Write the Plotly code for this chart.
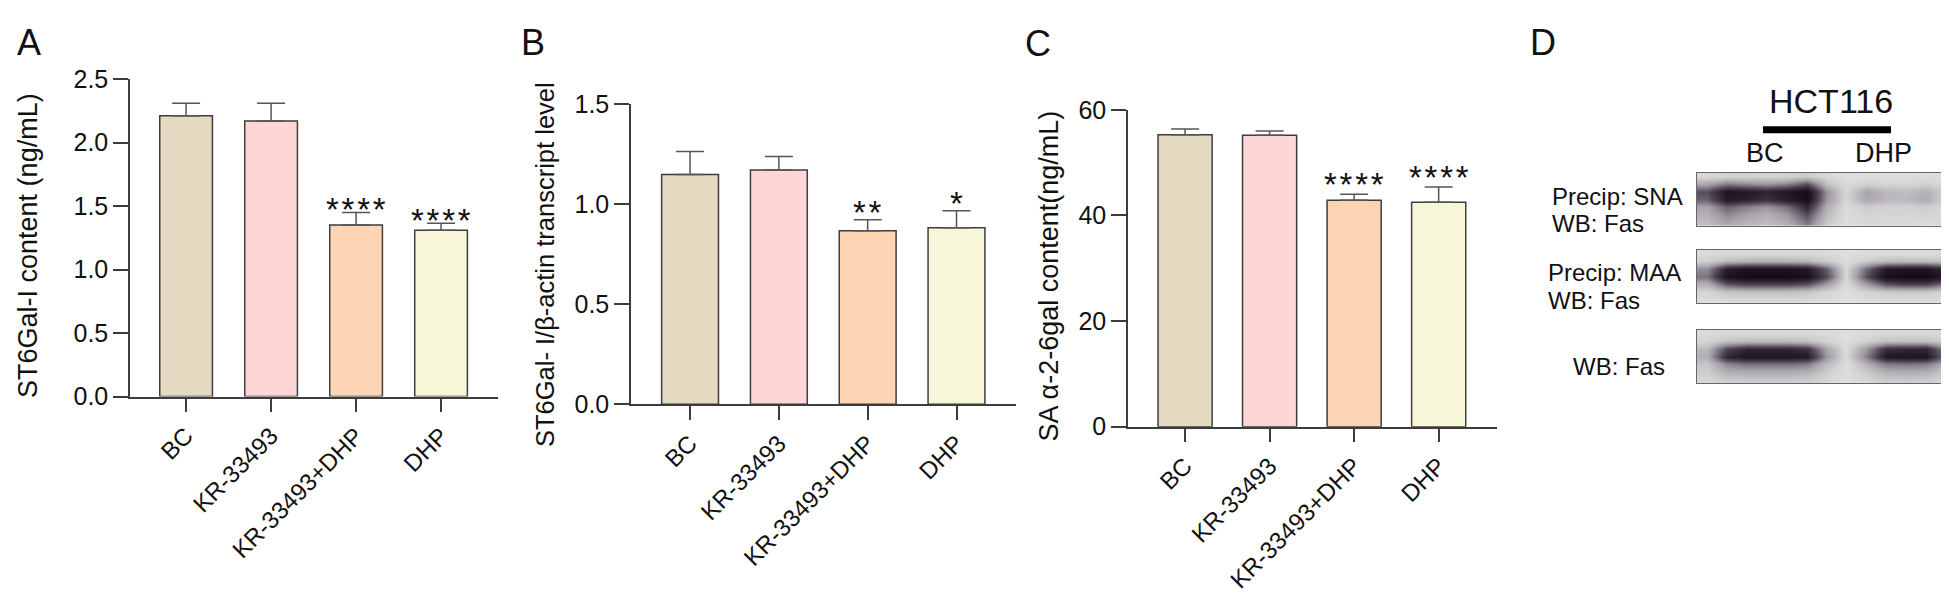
import plotly.graph_objects as go

W, H = 1949, 597
FONT = "Liberation Sans, Arial, sans-serif"

# ---------------- data ----------------
categories = ["BC", "KR-33493", "KR-33493+DHP", "DHP"]
bar_colors = ["#E3DAC1", "#FDD6D5", "#FDD4B4", "#F8F6D9"]

a_mean = [2.21, 2.17, 1.35, 1.31]
a_err = [0.10, 0.14, 0.10, 0.055]
a_stars = ["", "", "****", "****"]

b_mean = [1.148, 1.170, 0.867, 0.881]
b_err = [0.114, 0.067, 0.054, 0.086]
b_stars = ["", "", "**", "*"]

c_mean = [55.3, 55.2, 42.9, 42.5]
c_err = [1.1, 0.8, 1.1, 2.9]
c_stars = ["", "", "****", "****"]

a_ticks = [0.0, 0.5, 1.0, 1.5, 2.0, 2.5]
b_ticks = [0.0, 0.5, 1.0, 1.5]
c_ticks = [0, 20, 40, 60]

a_title = "ST6Gal-I content (ng/mL)"
b_title = "ST6Gal- I/β-actin transcript level"
c_title = "SA α-2-6gal content(ng/mL)"

# western blot band densities (rows top->bottom, columns left->right)
blot_sna = [
    [0.06, 0.10, 0.10, 0.09, 0.10, 0.14, 0.06, 0.02, 0.03, 0.03, 0.03, 0.04, 0.03],
    [0.30, 0.45, 0.40, 0.36, 0.42, 0.60, 0.18, 0.04, 0.10, 0.08, 0.08, 0.10, 0.05],
    [0.62, 0.92, 0.88, 0.82, 0.90, 1.00, 0.38, 0.07, 0.32, 0.22, 0.20, 0.26, 0.10],
    [0.55, 0.88, 0.82, 0.74, 0.86, 0.98, 0.36, 0.07, 0.30, 0.22, 0.22, 0.28, 0.10],
    [0.32, 0.55, 0.45, 0.38, 0.50, 0.80, 0.26, 0.05, 0.12, 0.10, 0.10, 0.12, 0.06],
    [0.26, 0.42, 0.32, 0.26, 0.36, 0.62, 0.20, 0.04, 0.09, 0.08, 0.08, 0.09, 0.05],
    [0.20, 0.32, 0.24, 0.20, 0.28, 0.48, 0.15, 0.03, 0.07, 0.06, 0.06, 0.06, 0.04],
]
blot_maa = [
    [0.05, 0.06, 0.06, 0.06, 0.06, 0.06, 0.05, 0.02, 0.04, 0.05, 0.05, 0.05, 0.05],
    [0.10, 0.20, 0.24, 0.24, 0.24, 0.22, 0.12, 0.03, 0.12, 0.20, 0.20, 0.20, 0.16],
    [0.40, 0.85, 0.92, 0.92, 0.92, 0.88, 0.55, 0.06, 0.52, 0.88, 0.92, 0.92, 0.78],
    [0.48, 0.95, 1.00, 1.00, 1.00, 0.97, 0.62, 0.07, 0.60, 0.97, 1.00, 1.00, 0.88],
    [0.26, 0.60, 0.68, 0.68, 0.68, 0.62, 0.34, 0.04, 0.34, 0.62, 0.68, 0.68, 0.50],
    [0.08, 0.16, 0.18, 0.18, 0.18, 0.16, 0.08, 0.02, 0.08, 0.14, 0.14, 0.14, 0.09],
    [0.04, 0.06, 0.06, 0.06, 0.06, 0.06, 0.04, 0.02, 0.04, 0.05, 0.05, 0.05, 0.04],
]
blot_fas = [
    [0.05, 0.06, 0.06, 0.06, 0.06, 0.06, 0.05, 0.02, 0.05, 0.06, 0.06, 0.06, 0.05],
    [0.08, 0.16, 0.20, 0.20, 0.20, 0.18, 0.08, 0.03, 0.10, 0.18, 0.18, 0.18, 0.10],
    [0.22, 0.66, 0.80, 0.80, 0.80, 0.74, 0.30, 0.04, 0.36, 0.76, 0.80, 0.80, 0.42],
    [0.26, 0.80, 0.92, 0.90, 0.92, 0.88, 0.36, 0.05, 0.44, 0.88, 0.92, 0.90, 0.50],
    [0.16, 0.42, 0.50, 0.50, 0.50, 0.46, 0.20, 0.03, 0.24, 0.46, 0.48, 0.46, 0.26],
    [0.12, 0.26, 0.28, 0.28, 0.28, 0.26, 0.12, 0.03, 0.14, 0.26, 0.28, 0.26, 0.14],
    [0.07, 0.14, 0.14, 0.14, 0.14, 0.14, 0.07, 0.02, 0.08, 0.14, 0.14, 0.14, 0.08],
]
blot_grids = [blot_sna, blot_maa, blot_fas]
blot_labels = [["Precip: SNA", "WB: Fas"], ["Precip: MAA", "WB: Fas"], ["WB: Fas"]]
lane_labels = ["BC", "DHP"]
cell_line = "HCT116"

# ---------------- layout helpers ----------------
def px_x(p):
    return p / W

def px_y(p):
    return 1 - p / H

AXIS_COLOR = "#3c3c3c"
BAR_LINE = "#3d3d3d"

fig = go.Figure()

panels = [
    dict(mean=a_mean, err=a_err, stars=a_stars, ticks=a_ticks, fmt=".1f",
         xd=(122, 490), yd=(393, 59.8), xr=[-0.66, 3.67], yr=[0, 2.5], bw=0.62, gap=3,
         title=a_title, tpos=(20, 235)),
    dict(mean=b_mean, err=b_err, stars=b_stars, ticks=b_ticks, fmt=".1f",
         xd=(623, 1008), yd=(401, 86), xr=[-0.665, 3.67], yr=[0, 1.5], bw=0.64, gap=8,
         title=b_title, tpos=(537, 255)),
    dict(mean=c_mean, err=c_err, stars=c_stars, ticks=c_ticks, fmt="d",
         xd=(1120, 1489), yd=(424.6, 92.2), xr=[-0.675, 3.69], yr=[0, 60], bw=0.64, gap=10,
         title=c_title, tpos=(1041, 267)),
]

STAR_SIZE = 33
annotations = []
for i, p in enumerate(panels, start=1):
    xa = "x" if i == 1 else f"x{i}"
    ya = "y" if i == 1 else f"y{i}"
    fig.add_trace(go.Bar(
        x=categories, y=p["mean"], xaxis=xa, yaxis=ya,
        width=p["bw"],
        marker=dict(color=bar_colors, line=dict(color=BAR_LINE, width=1.5)),
        error_y=dict(type="data", array=p["err"], arrayminus=[0] * 4, symmetric=False,
                     color="#555555", thickness=1.5, width=14),
        showlegend=False, hoverinfo="skip",
    ))
    xkey = "xaxis" if i == 1 else f"xaxis{i}"
    ykey = "yaxis" if i == 1 else f"yaxis{i}"
    fig.update_layout(**{
        xkey: dict(domain=[px_x(p["xd"][0]), px_x(p["xd"][1])], anchor=ya,
                   type="category", range=p["xr"], showgrid=False, zeroline=False,
                   showline=True, linecolor=AXIS_COLOR, linewidth=1.5,
                   ticks="outside", ticklen=14, tickwidth=1.5, tickcolor=AXIS_COLOR,
                   tickangle=-45, tickfont=dict(family=FONT, size=24, color="#111")),
        ykey: dict(domain=[px_y(p["yd"][0]), px_y(p["yd"][1])], anchor=xa,
                   range=p["yr"], tickvals=p["ticks"], tickformat=p["fmt"],
                   showgrid=False, zeroline=False,
                   showline=True, linecolor=AXIS_COLOR, linewidth=1.5,
                   ticks="outside", ticklen=15, tickwidth=1.5, tickcolor=AXIS_COLOR,
                   tickfont=dict(family=FONT, size=25, color="#111")),
    })
    for cat, m, e, s in zip(categories, p["mean"], p["err"], p["stars"]):
        if s:
            annotations.append(dict(
                x=cat, y=m + e, xref=xa, yref=ya, text="\u200a".join(s),
                showarrow=False, xanchor="center", yanchor="bottom",
                yshift=-int(0.64 * STAR_SIZE) + p["gap"],
                font=dict(family=FONT, size=STAR_SIZE, color="#111")))
    annotations.append(dict(
        x=px_x(p["tpos"][0]), y=px_y(p["tpos"][1]), xref="paper", yref="paper",
        text=p["title"], textangle=-90, showarrow=False,
        xanchor="center", yanchor="middle",
        font=dict(family=FONT, size=27 if i != 2 else 25.5, color="#111")))

# panel letters
for letter, (lx, ly) in zip("ABCD", [(21, 22), (525, 21.5), (1030, 23), (1535, 21.5)]):
    annotations.append(dict(x=px_x(lx), y=px_y(ly), xref="paper", yref="paper",
                            text=letter, showarrow=False, xanchor="center", yanchor="middle",
                            font=dict(family=FONT, size=36, color="#111")))

# ---------------- panel D : western blots ----------------
blot_colorscale = [[0.0, "#e2e2e2"], [0.1, "#d2d2d2"], [0.35, "#a29da5"],
                   [0.65, "#4e4454"], [0.85, "#271d2c"], [1.0, "#150c18"]]
blot_ydoms = [(214, 158), (295, 239), (379, 323)]
label_lines = [[(1542, 183), (1542, 211)], [(1538, 263), (1538, 292)], [(1563, 361)]]
for k, (grid, yd, labs, lpos) in enumerate(zip(blot_grids, blot_ydoms, blot_labels, label_lines)):
    idx = 4 + k
    xa, ya = f"x{idx}", f"y{idx}"
    ncols, nrows = len(grid[0]), len(grid)
    fig.add_trace(go.Heatmap(
        z=grid, x=list(range(ncols)), y=list(range(nrows)),
        xaxis=xa, yaxis=ya, colorscale=blot_colorscale, zmin=0, zmax=1,
        zsmooth="best", showscale=False, hoverinfo="skip"))
    fig.update_layout(**{
        f"xaxis{idx}": dict(domain=[px_x(1689), px_x(1948)], anchor=ya,
                            range=[-0.5, ncols - 0.5], showticklabels=False, ticks="",
                            showgrid=False, zeroline=False, showline=True, mirror=True,
                            linecolor="#666666", linewidth=1.2),
        f"yaxis{idx}": dict(domain=[px_y(yd[0]), px_y(yd[1])], anchor=xa,
                            range=[nrows - 0.5, -0.5], showticklabels=False, ticks="",
                            showgrid=False, zeroline=False, showline=True, mirror=True,
                            linecolor="#666666", linewidth=1.2),
    })
    for lab, (lx, ly) in zip(labs, lpos):
        annotations.append(dict(x=px_x(lx), y=px_y(ly), xref="paper", yref="paper",
                                text=lab, showarrow=False, xanchor="left", yanchor="middle",
                                font=dict(family=FONT, size=24, color="#111")))

annotations.append(dict(x=px_x(1823), y=px_y(83), xref="paper", yref="paper",
                        text=cell_line, showarrow=False, xanchor="center", yanchor="middle",
                        font=dict(family=FONT, size=34, color="#111")))
for lab, lx in zip(lane_labels, [1757, 1875]):
    annotations.append(dict(x=px_x(lx), y=px_y(137), xref="paper", yref="paper",
                            text=lab, showarrow=False, xanchor="center", yanchor="middle",
                            font=dict(family=FONT, size=27, color="#111")))

shapes = [dict(type="line", xref="paper", yref="paper",
               x0=px_x(1755), x1=px_x(1883), y0=px_y(113), y1=px_y(113),
               line=dict(color="#000", width=7))]

fig.update_layout(width=W, height=H, margin=dict(l=0, r=0, t=0, b=0),
                  paper_bgcolor="white", plot_bgcolor="white",
                  annotations=annotations, shapes=shapes)

fig.write_html("out.html")
